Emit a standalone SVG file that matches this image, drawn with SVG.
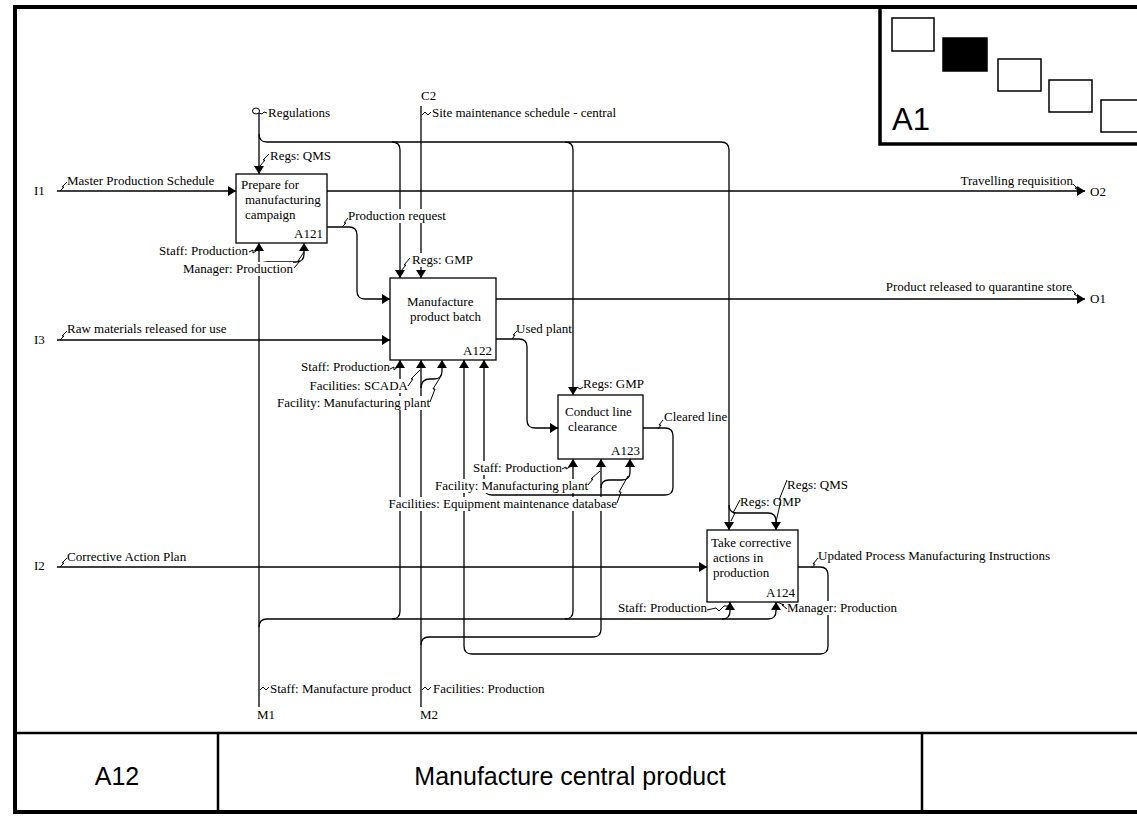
<svg xmlns="http://www.w3.org/2000/svg" width="1137" height="816" viewBox="0 0 1137 816">
<style>
.t{font-family:"Liberation Serif","Times New Roman",serif;font-size:13px;fill:#000}
.e{text-anchor:end}
.ln{fill:none;stroke:#000;stroke-width:1.3}
.sq{fill:none;stroke:#000;stroke-width:1}
.box{fill:#fff;stroke:#000;stroke-width:1.3}
.big{font-family:"Liberation Sans",Arial,sans-serif;fill:#000}
.bg{fill:#fff;stroke:none}
</style>
<defs>
<marker id="ah" viewBox="0 0 8 10" refX="8" refY="5" markerWidth="8" markerHeight="10" markerUnits="userSpaceOnUse" orient="auto"><path d="M0,0 L8,5 L0,10 z" fill="#000"/></marker>
</defs>
<rect width="1137" height="816" fill="#fff"/>
<g id="frame" fill="none" stroke="#000">
<rect x="15" y="7" width="1130" height="805" stroke-width="4"/>
<path d="M15,733 H1137 M218,733 V812 M922,733 V812" stroke-width="2.5"/>
<path d="M880,7 V144 H1137" stroke-width="3.5"/>
<rect x="892" y="18" width="42" height="33" stroke-width="1.5"/>
<rect x="943" y="38" width="44" height="33" fill="#000" stroke-width="1.5"/>
<rect x="998" y="59" width="43" height="32" stroke-width="1.5"/>
<rect x="1049" y="80" width="43" height="32" stroke-width="1.5"/>
<rect x="1101" y="100" width="43" height="32" stroke-width="1.5"/>
</g>
<g id="frame-text">
<text class="big" x="892" y="130" font-size="31">A1</text>
<text class="big" x="117" y="785" font-size="25" text-anchor="middle">A12</text>
<text class="big" x="570" y="785" font-size="25" text-anchor="middle">Manufacture central product</text>
</g>
<g id="connectors" class="ln">
<path d="M259,113 V174" marker-end="url(#ah)"/>
<path d="M259,134 Q259,142 267,142 H721 Q729,142 729,150 V530" marker-end="url(#ah)"/>
<path d="M392,142 Q400,142 400,150 V278" marker-end="url(#ah)"/>
<path d="M565,142 Q573,142 573,150 V395" marker-end="url(#ah)"/>
<path d="M729,505 Q729,513 737,513 H768 Q776,513 776,521 V530" marker-end="url(#ah)"/>
<path d="M421,106 V278" marker-end="url(#ah)"/>
<path d="M57,191 H236" marker-end="url(#ah)"/>
<path d="M327,191 H1085" marker-end="url(#ah)"/>
<path d="M327,227 H349 Q357,227 357,235 V291 Q357,299 365,299 H390" marker-end="url(#ah)"/>
<path d="M496,299 H1085" marker-end="url(#ah)"/>
<path d="M57,340 H390" marker-end="url(#ah)"/>
<path d="M496,339 H519 Q527,339 527,347 V420 Q527,428 535,428 H558" marker-end="url(#ah)"/>
<path d="M643,428 H665 Q673,428 673,436 V487 Q673,495 665,495 H492 Q484,495 484,487 V360" marker-end="url(#ah)"/>
<path d="M57,567 H707" marker-end="url(#ah)"/>
<path d="M798,567 H820 Q828,567 828,575 V646 Q828,654 820,654 H472 Q464,654 464,646 V360" marker-end="url(#ah)"/>
<path d="M259,707 V243" marker-end="url(#ah)"/>
<path d="M259,270 Q259,262 267,262 H296 Q304,262 304,254 V243" marker-end="url(#ah)"/>
<path d="M259,627 Q259,619 267,619 H768 Q776,619 776,611 V602" marker-end="url(#ah)"/>
<path d="M392,619 Q400,619 400,611 V360" marker-end="url(#ah)"/>
<path d="M565,619 Q573,619 573,611 V459" marker-end="url(#ah)"/>
<path d="M722,619 Q730,619 730,611 V602" marker-end="url(#ah)"/>
<path d="M421,707 V360" marker-end="url(#ah)"/>
<path d="M421,388 Q421,379 430,379 H434 Q442,379 442,371 V360" marker-end="url(#ah)"/>
<path d="M421,645 Q421,637 429,637 H593 Q601,637 601,629 V459" marker-end="url(#ah)"/>
<path d="M601,488 Q601,480 609,480 H622 Q630,480 630,472 V459" marker-end="url(#ah)"/>
</g>
<g id="label-backs" class="bg">
<rect x="348" y="209" width="98" height="14"/>
<rect x="183" y="262" width="110" height="14"/>
<rect x="412" y="253" width="61" height="14"/>
<rect x="310" y="379" width="98" height="14"/>
<rect x="277" y="396" width="153" height="14"/>
<rect x="473" y="461" width="89" height="14"/>
<rect x="435" y="479" width="153" height="14"/>
<rect x="389" y="497" width="228" height="14"/>
<rect x="787" y="601" width="110" height="14"/>
</g>
<g id="labels" class="t">
<text x="268" y="117">Regulations</text>
<text x="421" y="100">C2</text>
<text x="432" y="117">Site maintenance schedule - central</text>
<text x="270" y="160">Regs: QMS</text>
<text x="34" y="195">I1</text>
<text x="67" y="185">Master Production Schedule</text>
<text class="e" x="1073" y="185">Travelling requisition</text>
<text x="1090" y="196">O2</text>
<text x="348" y="220">Production request</text>
<text class="e" x="248" y="255">Staff: Production</text>
<text class="e" x="293" y="273">Manager: Production</text>
<text x="412" y="264">Regs: GMP</text>
<text class="e" x="1072" y="291">Product released to quarantine store</text>
<text x="1090" y="303">O1</text>
<text x="34" y="344">I3</text>
<text x="67" y="333">Raw materials released for use</text>
<text x="516" y="333">Used plant</text>
<text class="e" x="390" y="371">Staff: Production</text>
<text class="e" x="408" y="390">Facilities: SCADA</text>
<text class="e" x="430" y="407">Facility: Manufacturing plant</text>
<text x="583" y="388">Regs: GMP</text>
<text x="664" y="421">Cleared line</text>
<text class="e" x="562" y="472">Staff: Production</text>
<text class="e" x="588" y="490">Facility: Manufacturing plant</text>
<text class="e" x="617" y="508">Facilities: Equipment maintenance database</text>
<text x="787" y="489">Regs: QMS</text>
<text x="740" y="506">Regs: GMP</text>
<text x="34" y="570">I2</text>
<text x="67" y="561">Corrective Action Plan</text>
<text x="818" y="560">Updated Process Manufacturing Instructions</text>
<text class="e" x="707" y="612">Staff: Production</text>
<text x="787" y="612">Manager: Production</text>
<text x="270" y="693">Staff: Manufacture product</text>
<text x="433" y="693">Facilities: Production</text>
<text x="257" y="719">M1</text>
<text x="420" y="719">M2</text>
</g>
<g id="squiggles" class="sq">
<ellipse cx="256" cy="111" rx="3.5" ry="3"/>
<path d="M259,113 l3,1 l2,-2 l3,1"/>
<path d="M422,115 l3,-3 l3,3 l3,-3"/>
<path d="M260,166 L265,160 L263,160 L269,154"/>
<path d="M60,191 L64,187 L62,187 L67,182"/>
<path d="M1073,184 L1077,188 L1075,188 L1080,192"/>
<path d="M342,227 L346,223 L344,223 L348,218"/>
<path d="M249,252 L253,250 L253,253 L259,249"/>
<path d="M294,268 L300,261 L298,261 L304,252"/>
<path d="M401,271 L406,265 L404,265 L410,258"/>
<path d="M1072,290 L1076,294 L1074,294 L1080,298"/>
<path d="M60,340 L64,336 L62,336 L67,331"/>
<path d="M512,339 L515,335 L513,335 L517,331"/>
<path d="M390,369 L394,367 L394,370 L400,365"/>
<path d="M408,386 L413,379 L411,379 L420,370"/>
<path d="M430,402 L435,389 L433,389 L441,376"/>
<path d="M574,390 l3,-3 l3,2 l3,-2"/>
<path d="M658,429 L661,425 L659,425 L663,420"/>
<path d="M562,469 l4,-2 l0,2 l7,-4"/>
<path d="M588,485 L593,479 L591,479 L600,471"/>
<path d="M617,503 L621,492 L619,492 L628,476"/>
<path d="M731,521 L735,513 L733,513 L740,500"/>
<path d="M776,522 L781,500 L779,500 L787,480"/>
<path d="M60,567 L64,563 L62,563 L67,558"/>
<path d="M812,568 L815,564 L813,564 L818,558"/>
<path d="M707,610 L716,608 L719,611 L724,606 L730,606"/>
<path d="M787,609 L782,605 L784,605 L777,602"/>
<path d="M260,690 l3,-3 l3,3 l3,-3"/>
<path d="M422,690 l3,-3 l3,3 l3,-3"/>
</g>
<g id="A121">
<rect class="box" x="236" y="174" width="91" height="69"/>
<text class="t" x="241" y="189">Prepare for</text>
<text class="t" x="245" y="204">manufacturing</text>
<text class="t" x="245" y="219">campaign</text>
<text class="t e" x="323" y="238">A121</text>
</g>
<g id="A122">
<rect class="box" x="390" y="278" width="106" height="82"/>
<text class="t" x="407" y="306">Manufacture</text>
<text class="t" x="410" y="321">product batch</text>
<text class="t e" x="492" y="355">A122</text>
</g>
<g id="A123">
<rect class="box" x="558" y="395" width="85" height="64"/>
<text class="t" x="565" y="416">Conduct line</text>
<text class="t" x="568" y="431">clearance</text>
<text class="t e" x="640" y="455">A123</text>
</g>
<g id="A124">
<rect class="box" x="707" y="530" width="91" height="72"/>
<text class="t" x="711" y="547">Take corrective</text>
<text class="t" x="713" y="562">actions in</text>
<text class="t" x="713" y="577">production</text>
<text class="t e" x="795" y="597">A124</text>
</g>
</svg>
